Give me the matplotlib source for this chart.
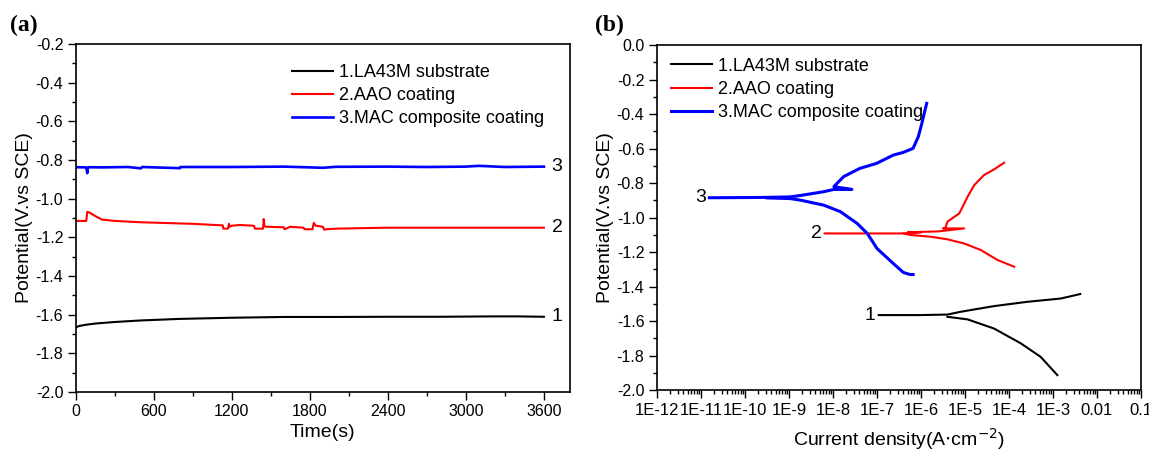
import numpy as np
import matplotlib
matplotlib.use("Agg")
import matplotlib.pyplot as plt
from matplotlib.ticker import MultipleLocator, FixedLocator, LogLocator, NullFormatter, FuncFormatter

plt.rcParams['font.family'] = ['Liberation Sans', 'DejaVu Sans']

# ---------------- Panel (a): OCP vs time ----------------
t_sub = [0, 30, 80, 150, 300, 500, 800, 1200, 1600, 2000, 2400, 2800, 3000, 3200, 3400, 3600]
e_sub = [-1.665, -1.658, -1.652, -1.646, -1.638, -1.630, -1.622, -1.616, -1.612, -1.612, -1.611, -1.611, -1.610, -1.609, -1.609, -1.611]

t_aao = [0, 80, 88, 100, 150, 200, 300, 500, 900, 1130, 1135, 1170, 1178, 1185, 1200, 1260, 1370, 1378, 1440, 1445,
         1450, 1460, 1600, 1605, 1640, 1645, 1750, 1760, 1820, 1830, 1845, 1900, 1910, 1930, 2000, 2400, 3000, 3600]
e_aao = [-1.115, -1.115, -1.068, -1.070, -1.090, -1.108, -1.115, -1.122, -1.130, -1.138, -1.155, -1.155, -1.130, -1.145,
         -1.140, -1.136, -1.140, -1.155, -1.155, -1.105, -1.140, -1.145, -1.148, -1.158, -1.148, -1.145, -1.150, -1.158,
         -1.158, -1.125, -1.140, -1.145, -1.160, -1.158, -1.155, -1.150, -1.150, -1.150]

t_mac = [0, 80, 88, 92, 100, 200, 400, 500, 510, 800, 805, 1200, 1600, 1900, 2000, 2400, 2700, 3000, 3100, 3300, 3600]
e_mac = [-0.837, -0.838, -0.868, -0.840, -0.837, -0.838, -0.836, -0.843, -0.836, -0.842, -0.836, -0.836, -0.834, -0.840,
         -0.835, -0.834, -0.836, -0.834, -0.830, -0.836, -0.834]

# ---------------- Panel (b): Tafel curves (log10 current density, potential) ----------------
sub_logi = [-6.96, -6.0, -5.40, -5.10, -4.34, -3.58, -2.82, -2.38]
sub_e_an = [-1.565, -1.565, -1.562, -1.546, -1.513, -1.488, -1.469, -1.443]
sub_cat_logi = [-5.40, -4.94, -4.34, -3.73, -3.28, -2.90]
sub_e_cat = [-1.575, -1.590, -1.643, -1.729, -1.807, -1.913]

aao_logi = [-8.19, -6.39, -6.0, -6.3, -5.6, -5.02, -5.5, -5.44, -5.40, -5.13, -4.94, -4.79, -4.57, -4.34, -4.11]
aao_e_an = [-1.092, -1.092, -1.085, -1.085, -1.080, -1.063, -1.063, -1.057, -1.024, -0.976, -0.879, -0.812, -0.754, -0.721, -0.682]
aao_cat_logi = [-6.39, -6.24, -5.78, -5.40, -5.02, -4.64, -4.26, -3.88]
aao_e_cat = [-1.092, -1.101, -1.111, -1.126, -1.150, -1.188, -1.246, -1.285]

mac_logi = [-10.81, -10.0, -9.5, -8.97, -8.74, -8.21, -7.98, -7.57, -7.98, -7.76, -7.39, -7.01, -6.63, -6.40,
            -6.18, -6.06, -5.98, -5.93, -5.87]
mac_e_an = [-0.885, -0.884, -0.883, -0.880, -0.872, -0.850, -0.837, -0.837, -0.821, -0.763, -0.715, -0.686, -0.638,
            -0.622, -0.599, -0.531, -0.454, -0.400, -0.338]
mac_cat_logi = [-9.5, -8.97, -8.74, -8.21, -7.83, -7.45, -7.22, -7.0, -6.63, -6.40, -6.25, -6.18]
mac_e_cat = [-0.886, -0.890, -0.899, -0.928, -0.966, -1.034, -1.092, -1.179, -1.266, -1.318, -1.330, -1.330]

labels = ['1.LA43M substrate', '2.AAO coating', '3.MAC composite coating']
colors = ['#000000', '#ff0000', '#0000ff']

fig = plt.figure(figsize=(11.49, 4.5), dpi=100)
axa = fig.add_axes([0.066, 0.129, 0.430, 0.773])
axb = fig.add_axes([0.5718, 0.133, 0.4212, 0.767])

# Panel (a)
axa.plot(t_sub, e_sub, color=colors[0], lw=1.5, label=labels[0])
axa.plot(t_aao, e_aao, color=colors[1], lw=1.5, label=labels[1])
axa.plot(t_mac, e_mac, color=colors[2], lw=1.9, label=labels[2])
axa.set_xlim(0, 3800)
axa.set_ylim(-2.0, -0.2)
axa.xaxis.set_major_locator(FixedLocator([0, 600, 1200, 1800, 2400, 3000, 3600]))
axa.xaxis.set_minor_locator(FixedLocator([300, 900, 1500, 2100, 2700, 3300]))
axa.yaxis.set_major_locator(MultipleLocator(0.2))
axa.yaxis.set_minor_locator(MultipleLocator(0.1))
axa.yaxis.set_major_formatter(FuncFormatter(lambda v, p: f"{v:.1f}"))
axa.set_xlabel('Time(s)', fontsize=14, labelpad=3)
axa.set_ylabel('Potential(V.vs SCE)', fontsize=14, labelpad=2)
axa.text(3660, e_mac[-1], '3', fontsize=14, va='center', ha='left')
axa.text(3660, e_aao[-1], '2', fontsize=14, va='center', ha='left')
axa.text(3660, e_sub[-1], '1', fontsize=14, va='center', ha='left')
axa.legend(loc='upper right', bbox_to_anchor=(0.98, 0.99), frameon=False, fontsize=13,
           handlelength=2.3, handletextpad=0.3, labelspacing=0.35)

# Panel (b)
axb.plot(10.0 ** np.array(sub_logi), sub_e_an, color=colors[0], lw=1.5, label=labels[0])
axb.plot(10.0 ** np.array(sub_cat_logi), sub_e_cat, color=colors[0], lw=1.5)
axb.plot(10.0 ** np.array(aao_logi), aao_e_an, color=colors[1], lw=1.5, label=labels[1])
axb.plot(10.0 ** np.array(aao_cat_logi), aao_e_cat, color=colors[1], lw=1.5)
axb.plot(10.0 ** np.array(mac_logi), mac_e_an, color=colors[2], lw=2.2, label=labels[2])
axb.plot(10.0 ** np.array(mac_cat_logi), mac_e_cat, color=colors[2], lw=2.2)
axb.set_xscale('log')
axb.set_xlim(1e-12, 0.1)
axb.set_ylim(-2.0, 0.0)
xt = [1e-12, 1e-11, 1e-10, 1e-9, 1e-8, 1e-7, 1e-6, 1e-5, 1e-4, 1e-3, 1e-2, 1e-1]
xtl = ['1E-12', '1E-11', '1E-10', '1E-9', '1E-8', '1E-7', '1E-6', '1E-5', '1E-4', '1E-3', '0.01', '0.1']
axb.set_xticks(xt)
axb.set_xticklabels(xtl)
axb.xaxis.set_minor_locator(LogLocator(base=10, subs=np.arange(2, 10), numticks=50))
axb.xaxis.set_minor_formatter(NullFormatter())
axb.yaxis.set_major_locator(MultipleLocator(0.2))
axb.yaxis.set_minor_locator(MultipleLocator(0.1))
axb.yaxis.set_major_formatter(FuncFormatter(lambda v, p: f"{v:.1f}" if abs(v) > 1e-9 else "0.0"))
axb.set_xlabel('Current density(A$\\cdot$cm$^{-2}$)', fontsize=14, labelpad=6)
axb.set_ylabel('Potential(V.vs SCE)', fontsize=14, labelpad=2)
axb.text(10 ** sub_logi[0] * 0.85, sub_e_an[0], '1', fontsize=14, va='center', ha='right')
axb.text(10 ** aao_logi[0] * 0.85, aao_e_an[0], '2', fontsize=14, va='center', ha='right')
axb.text(10 ** mac_logi[0] * 0.85, mac_e_an[0], '3', fontsize=14, va='center', ha='right')
axb.legend(loc='upper left', bbox_to_anchor=(-0.005, 1.01), frameon=False, fontsize=13,
           handlelength=2.3, handletextpad=0.3, labelspacing=0.35)

for ax in (axa, axb):
    ax.tick_params(which='major', direction='out', length=6, width=1, labelsize=11.5, pad=3)
    ax.tick_params(which='minor', direction='out', length=3, width=1)
    ax.tick_params(top=False, right=False, which='both')
    for s in ax.spines.values():
        s.set_linewidth(1.2)
axb.tick_params(axis='x', which='major', labelsize=12)

fig.text(0.009, 0.93, '(a)', fontsize=17, fontweight='bold', family='Liberation Serif')
fig.text(0.518, 0.93, '(b)', fontsize=17, fontweight='bold', family='Liberation Serif')

fig.savefig('out.png', dpi=100)
